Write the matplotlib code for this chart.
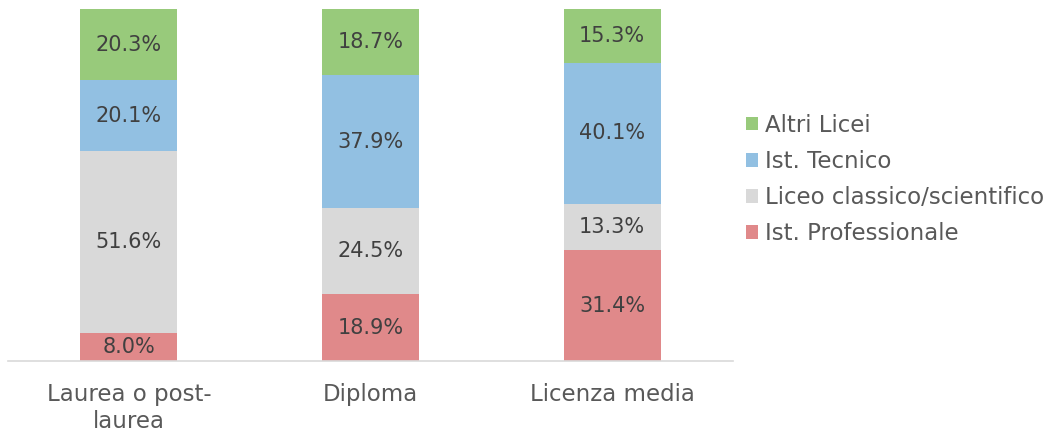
import matplotlib
matplotlib.use("Agg")
import matplotlib.pyplot as plt
import numpy as np

categories = ["Laurea o post-\nlaurea", "Diploma", "Licenza media"]
series_names = ["Ist. Professionale", "Liceo classico/scientifico", "Ist. Tecnico", "Altri Licei"]
professionale = [8.0, 18.9, 31.4]
liceo_cs = [51.6, 24.5, 13.3]
tecnico = [20.1, 37.9, 40.1]
altri = [20.3, 18.7, 15.3]
colors = ["#E0898A", "#D9D9D9", "#92C0E2", "#98CA7B"]

plt.rcParams['font.family'] = ['DejaVu Sans']

fig = plt.figure(figsize=(10.53, 4.32), dpi=100)
ax = fig.add_axes([8/1053, (432-361)/432, (733-8)/1053, 352/432])

x = np.arange(len(categories))
data = [professionale, liceo_cs, tecnico, altri]
bottom = np.zeros(len(categories))
handles = []
for vals, name, col in zip(data, series_names, colors):
    vals = np.array(vals)
    b = ax.bar(x, vals, 0.4, bottom=bottom, color=col, label=name, linewidth=0)
    handles.append(b)
    for xi, v, bt in zip(x, vals, bottom):
        ax.text(xi, bt + v/2, f"{v:.1f}%", ha='center', va='center',
                fontsize=15, color='#404040')
    bottom += vals

ax.set_xlim(-0.5, 2.5)
ax.set_ylim(0, 100)
ax.set_yticks([])
for s in ['top', 'right', 'left']:
    ax.spines[s].set_visible(False)
ax.spines['bottom'].set_color('#D9D9D9')
ax.spines['bottom'].set_linewidth(1.2)
ax.set_xticks(x)
ax.set_xticklabels(categories, fontsize=16.5, color='#595959', linespacing=1.2)
ax.tick_params(axis='x', length=0, pad=16)

leg = fig.legend(handles[::-1], series_names[::-1], loc='upper left',
                 bbox_to_anchor=(725/1053, 1 - 93/432), frameon=False,
                 fontsize=16.5, handlelength=0.55, handleheight=0.55,
                 handletextpad=0.3, labelspacing=0.58, labelcolor='#595959')

fig.savefig("out.png", dpi=100)
